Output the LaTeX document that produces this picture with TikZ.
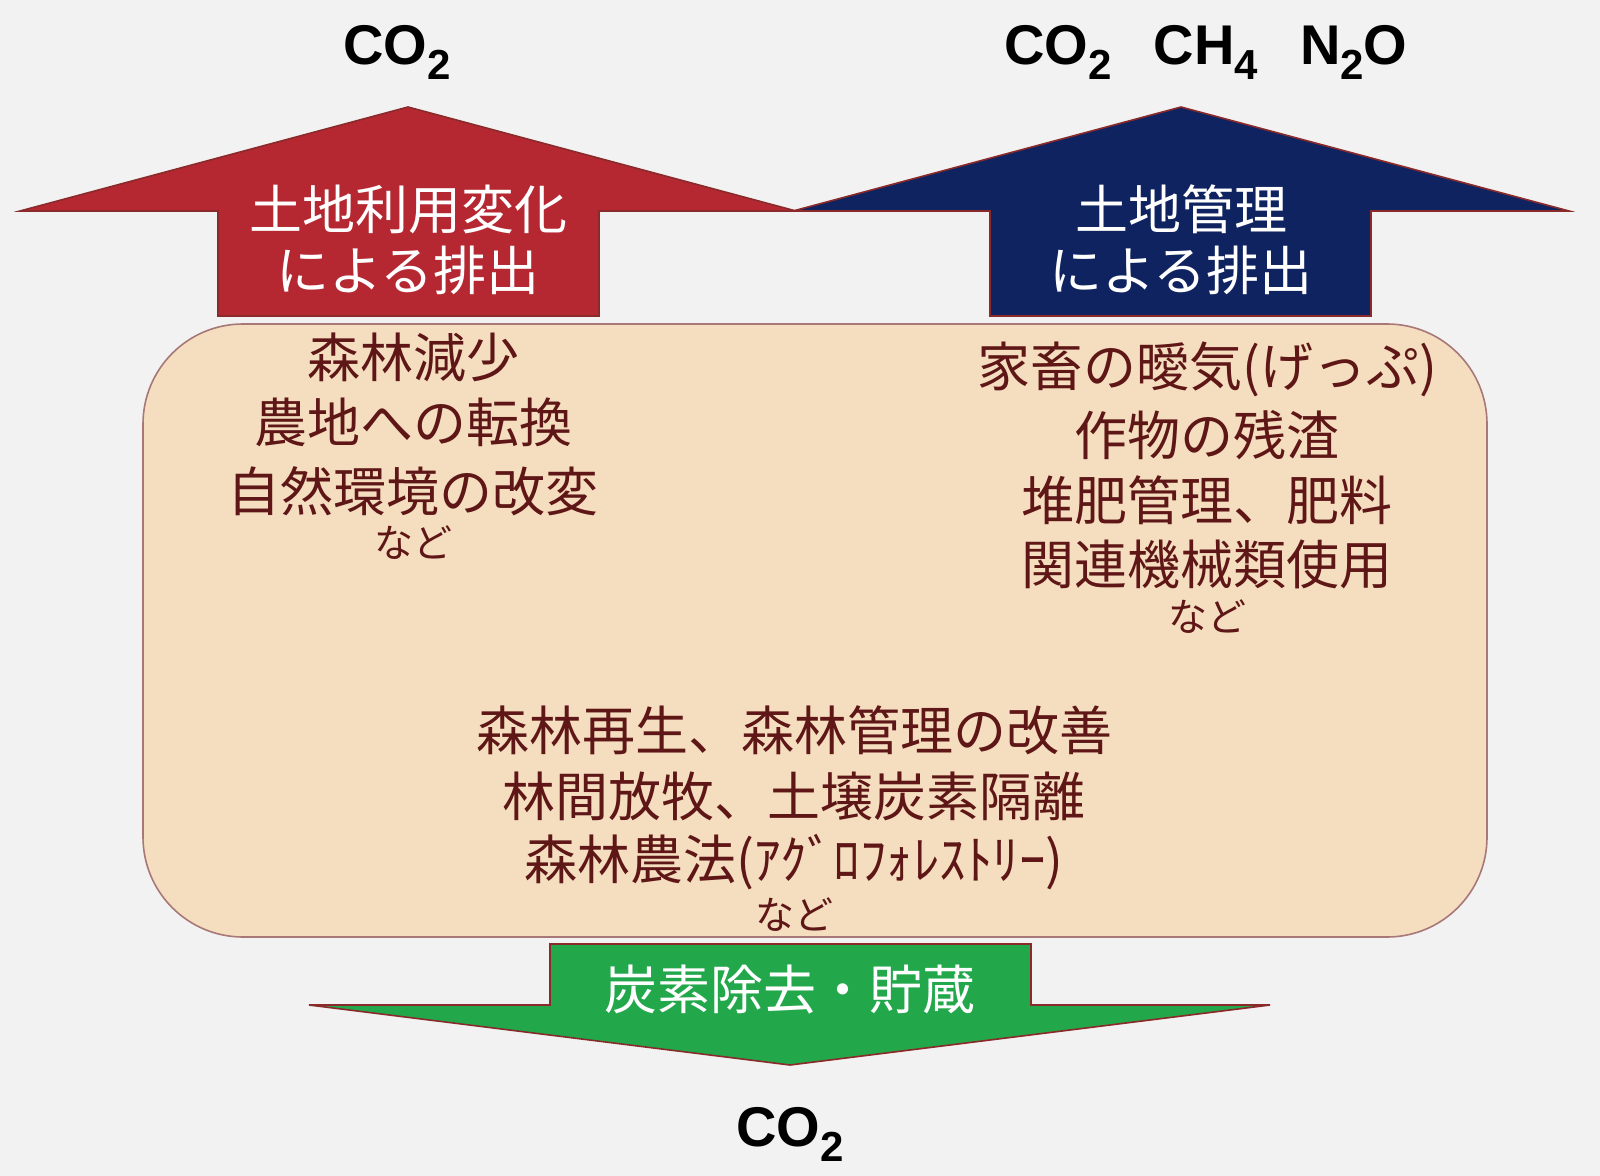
\documentclass[tikz,border=0pt]{standalone}
\usepackage{fontspec}
\newfontfamily\jpfont{Noto Sans CJK JP}
\newfontfamily\chemfont{Liberation Sans}
\definecolor{bgcol}{HTML}{F2F2F2}
\definecolor{redarrow}{HTML}{B52832}
\definecolor{bluearrow}{HTML}{0F2360}
\definecolor{greenarrow}{HTML}{22A84B}
\definecolor{edgecol}{HTML}{8B2A2A}
\definecolor{boxfill}{HTML}{F5DEC0}
\definecolor{boxedge}{HTML}{A87878}
\definecolor{txtcol}{HTML}{5E1616}
\newcommand{\csub}[1]{\raisebox{-7.5pt}{\fontsize{21pt}{21pt}\selectfont #1}}
\tikzset{
  arrowshape/.style={draw=edgecol, line width=0.8pt, line join=miter},
  jtext/.style={font=\jpfont\fontsize{26.5pt}{30pt}\selectfont, text=txtcol, inner sep=0pt, anchor=center},
  wtext/.style={jtext, text=white},
  jsmall/.style={font=\jpfont\fontsize{19.5pt}{22pt}\selectfont, text=txtcol, inner sep=0pt, anchor=center},
  chemlbl/.style={font=\chemfont\bfseries\fontsize{28pt}{28pt}\selectfont, text=black, inner sep=0pt, anchor=base},
  panel/.style={draw=boxedge, line width=0.8pt, fill=boxfill, rounded corners=50pt}
}
\begin{document}
\begin{tikzpicture}[x=0.5pt, y=-0.5pt]
  \fill[bgcol] (0,0) rectangle (1600,1176);
  \useasboundingbox (0,0) rectangle (1600,1176);

  % main panel
  \draw[panel] (143,324) rectangle (1487,937);

  % red arrow (land-use change)
  \filldraw[arrowshape, fill=redarrow]
    (218,316) -- (218,211) -- (20,211) -- (408,107) -- (796,211) -- (599,211) -- (599,316) -- cycle;
  % blue arrow (land management)
  \filldraw[arrowshape, fill=bluearrow]
    (990,316) -- (990,211) -- (793,211) -- (1181,107) -- (1569,211) -- (1371,211) -- (1371,316) -- cycle;
  % green arrow (removal)
  \filldraw[arrowshape, fill=greenarrow]
    (550,944) -- (1031,944) -- (1031,1005) -- (1270,1005) -- (790,1065) -- (309,1005) -- (550,1005) -- cycle;

  % gas labels
  \node[chemlbl] (co2a) at (397,65) {CO\csub{2}};
  \node[chemlbl] (gases) at (1206,65) {CO\csub{2}\hspace{21pt}CH\csub{4}\hspace{21pt}N\csub{2}O};
  \node[chemlbl] (co2b) at (790,1146) {CO\csub{2}};

  % arrow texts
  \node[wtext] (r1) at (408,209) {土地利用変化};
  \node[wtext] (r2) at (408,270) {による排出};
  \node[wtext] (b1) at (1181,209) {土地管理};
  \node[wtext] (b2) at (1181,270) {による排出};
  \node[wtext] (g1) at (790,990) {炭素除去・貯蔵};

  % left block
  \node[jtext] (l1) at (413,357) {森林減少};
  \node[jtext] (l2) at (413,422) {農地への転換};
  \node[jtext] (l3) at (413,491) {自然環境の改変};
  \node[jsmall] (l4) at (413,543) {など};

  % right block
  \node[jtext] (rt1) at (1207,369) {家畜の曖気(げっぷ)};
  \node[jtext] (rt2) at (1207,435) {作物の残渣};
  \node[jtext] (rt3) at (1207,500) {堆肥管理、肥料};
  \node[jtext] (rt4) at (1207,564) {関連機械類使用};
  \node[jsmall] (rt5) at (1207,617) {など};

  % middle block
  \node[jtext] (m1) at (794,730) {森林再生、森林管理の改善};
  \node[jtext] (m2) at (794,796) {林間放牧、土壌炭素隔離};
  \node[jtext] (m3) at (794,862) {森林農法(ｱｸﾞﾛﾌｫﾚｽﾄﾘｰ)};
  \node[jsmall] (m4) at (794,915) {など};
\end{tikzpicture}
\end{document}
